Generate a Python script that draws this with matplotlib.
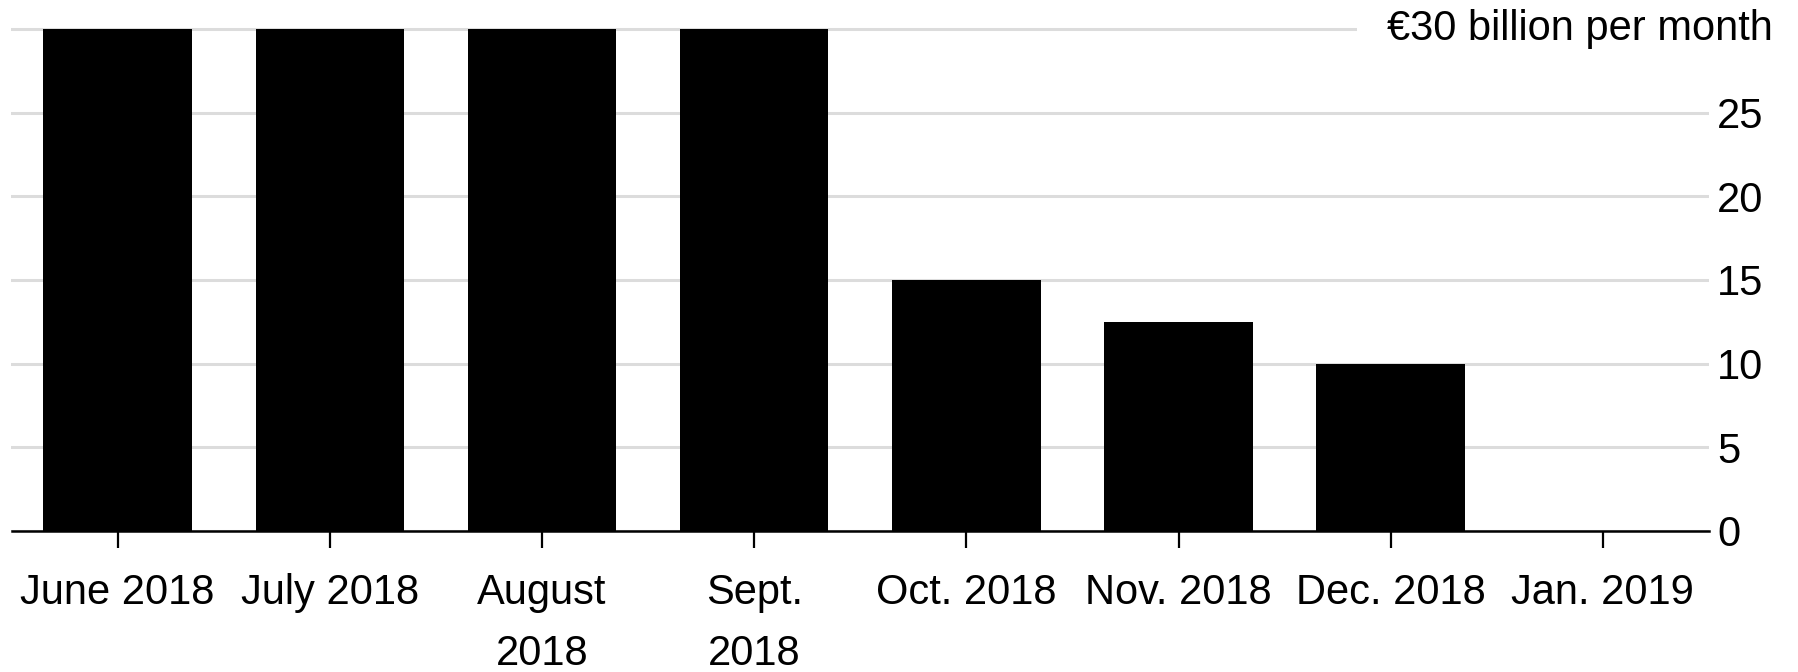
import matplotlib
matplotlib.use('Agg')
from matplotlib import pyplot as plt
from matplotlib import transforms

plt.rcParams['font.family'] = ['Liberation Sans', 'DejaVu Sans']

months = ['June 2018', 'July 2018', 'August\n2018', 'Sept.\n2018',
          'Oct. 2018', 'Nov. 2018', 'Dec. 2018', 'Jan. 2019']
purchases = [30, 30, 30, 30, 15, 12.5, 10, 0]  # EUR billion per month
yticks = [0, 5, 10, 15, 20, 25, 30]
ylabels = ['0', '5', '10', '15', '20', '25', '']
top_label = '€30 billion per month'

W, H = 1799, 672
fig = plt.figure(figsize=(W / 100, H / 100), dpi=100)
ax = fig.add_axes([11.5 / W, 141 / H, (1709 - 11.5) / W, 510.4 / H])

x = range(len(months))
ax.bar(x, purchases, width=0.7, color='black', zorder=3)

ax.set_xlim(-0.5, len(months) - 0.5)
ax.set_ylim(0, 30.5)

ax.set_xticks(list(x))
ax.set_xticklabels(months, fontsize=30, linespacing=1.7)
ax.tick_params(axis='x', length=12, width=1.6, color='black', pad=18)

ax.yaxis.tick_right()
ax.set_yticks(yticks)
ax.set_yticklabels(ylabels, fontsize=30)
ax.tick_params(axis='y', length=0, pad=6)
for lbl in ax.get_yticklabels():
    lbl.set_horizontalalignment('left')

ax.yaxis.grid(True, color='#dcdcdc', linewidth=2.2)
ax.set_axisbelow(True)

for s in ['top', 'left', 'right']:
    ax.spines[s].set_visible(False)
ax.spines['bottom'].set_linewidth(1.8)
ax.spines['bottom'].set_zorder(4)

trans = transforms.blended_transform_factory(fig.transFigure, ax.transData)
ax.text(1773 / W, 30, top_label, transform=trans, ha='right', va='center',
        fontsize=30, zorder=5,
        bbox=dict(facecolor='white', edgecolor='none', pad=22))

fig.savefig('out.png', dpi=100, facecolor='white')
